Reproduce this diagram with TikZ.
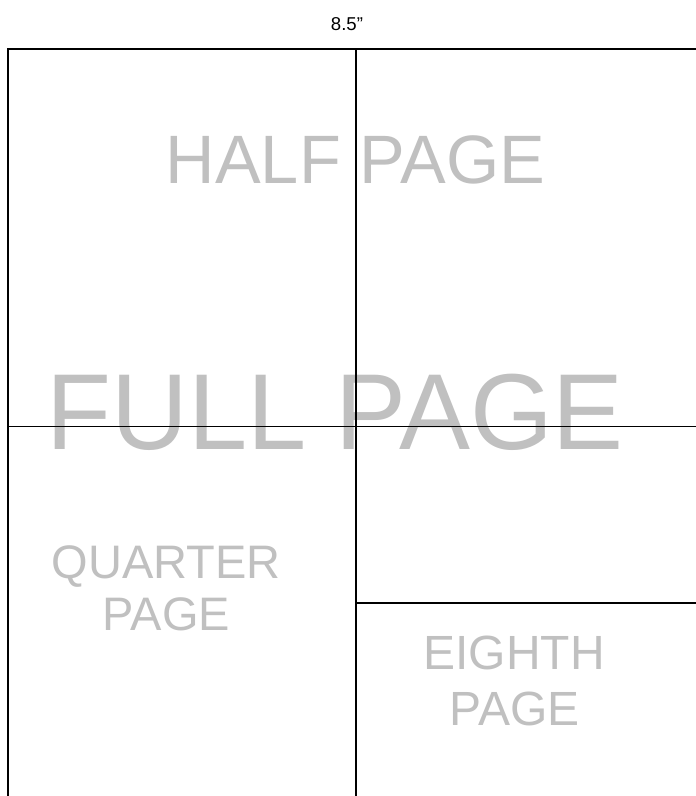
\documentclass[tikz,border=0pt]{standalone}
\usepackage{fontspec}
\setmainfont{Liberation Sans}
\definecolor{labelgray}{HTML}{C0C0C0}
\begin{document}
\begin{tikzpicture}[x=1pt,y=-1pt,
  rule/.style={draw=black,line width=1.8pt},
  biglabel/.style={text=labelgray,inner sep=0pt,anchor=base},
  dimlabel/.style={text=black,inner sep=0pt,anchor=base}]
\useasboundingbox[fill=white] (0,0) rectangle (696,796);
% coordinates
\coordinate (tl) at (8,49);
\coordinate (tr) at (696,49);
\coordinate (tm) at (356,49);
\coordinate (bl) at (8,796);
\coordinate (bm) at (356,796);
\coordinate (ml) at (8,426.5);
\coordinate (mr) at (696,426.5);
\coordinate (qm) at (356,603);
\coordinate (qr) at (696,603);
% texts
\node[biglabel,font=\fontsize{68.5}{80}\selectfont] (half) at (355.5,183) {HALF PAGE};
\node[biglabel,font=\fontsize{47}{55}\selectfont] (quarter) at (166,578.3) {QUARTER};
\node[biglabel,font=\fontsize{47}{55}\selectfont] (quarterpage) at (166.5,630) {PAGE};
\node[biglabel,font=\fontsize{48}{56}\selectfont] (eighth) at (514,669.3) {EIGHTH};
\node[biglabel,font=\fontsize{48}{56}\selectfont] (eighthpage) at (514.5,725) {PAGE};
\node[biglabel,font=\fontsize{108}{120}\selectfont,xscale=0.985] (full) at (335,449) {FULL PAGE};
\node[dimlabel,font=\fontsize{18.6}{22}\selectfont] (width) at (347,30) {8.5”};
% lines (drawn over the labels)
\draw[rule] (bl) -- (tl) -- (tr);
\draw[rule] (tm) -- (bm);
\draw[rule] (ml) -- (mr);
\draw[rule] (qm) -- (qr);
\end{tikzpicture}
\end{document}
